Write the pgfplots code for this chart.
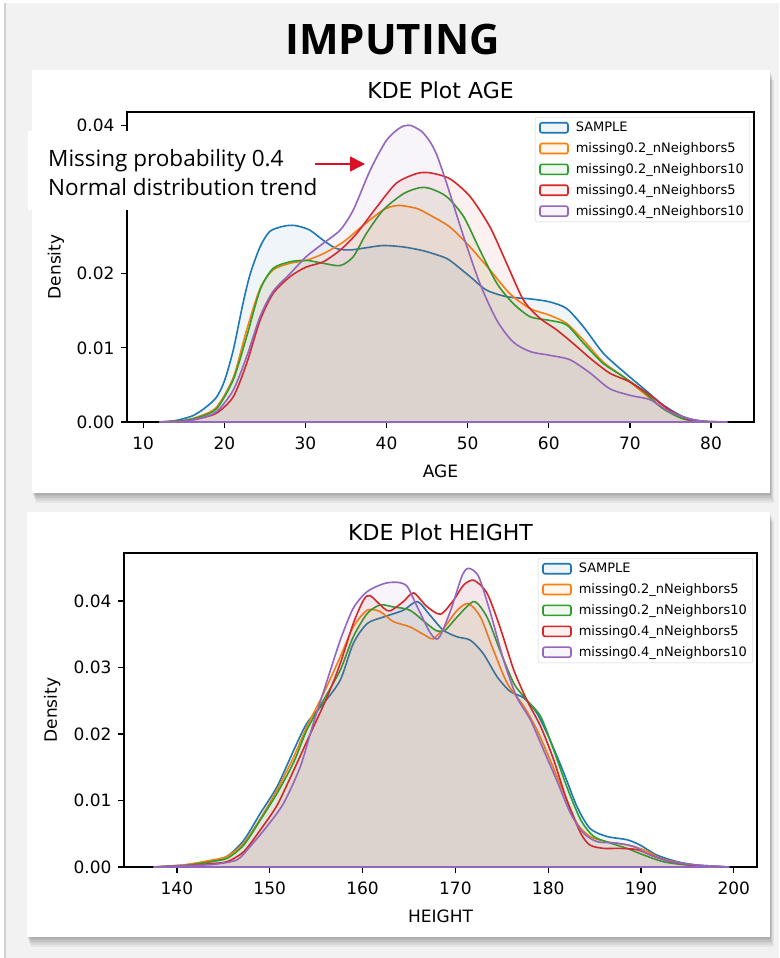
\documentclass[border=0pt]{standalone}
\usepackage{pgfplots}
\pgfplotsset{compat=1.18}
\usepackage{fontspec}
\setmainfont{DejaVu Sans}
\newfontfamily\osans{Open Sans}
\usetikzlibrary{arrows.meta}
\definecolor{c0}{HTML}{1F77B4}
\definecolor{c1}{HTML}{FF7F0E}
\definecolor{c2}{HTML}{2CA02C}
\definecolor{c3}{HTML}{D62728}
\definecolor{c4}{HTML}{9467BD}
\definecolor{bg}{HTML}{F2F2F2}
\definecolor{arrowred}{RGB}{218,16,40}
\pgfplotsset{
  kde/.style={
    scale only axis,
    axis line style={line width=1.3pt},
    every tick/.style={line width=1.3pt, black},
    major tick length=6pt,
    tick align=outside,
    xtick pos=left, ytick pos=left,
    ymin=0,
    /pgf/number format/assume math mode=true,
    ticklabel style={font=\fontsize{17}{20}\selectfont},
    xticklabel style={yshift=-5.5pt},
    yticklabel style={xshift=-3pt},
    label style={font=\fontsize{17}{20}\selectfont},
    xlabel style={at={(axis description cs:0.5,0)}, anchor=center, yshift=-49pt},
    ylabel style={at={(axis description cs:-0.1135,0.5)}, anchor=center},
    title style={font=\fontsize{22}{26}\selectfont, at={(axis description cs:0.5,1)}, anchor=base, yshift=8pt},
    scaled y ticks=false,
    yticklabel style={/pgf/number format/.cd, fixed, fixed zerofill, precision=2},
    ylabel={Density},
    legend style={at={(1,1)}, anchor=north east, xshift=-4pt, yshift=-5pt,
      draw=black!18, rounded corners=2pt, fill=white,
      font=\fontsize{13}{15.5}\selectfont, inner xsep=4pt, inner ysep=3pt,
      row sep=5.5pt, column sep=5pt, cells={anchor=west}},
    legend image code/.code={\draw[#1, line width=1.6pt] (0pt,-5pt) rectangle (28pt,5pt);},
  },
  kc/.style={smooth, tension=0.45, draw=#1, line width=1.6pt, fill=#1, fill opacity=0.065},
}
\begin{document}
\begin{tikzpicture}[x=1pt,y=-1pt]
\useasboundingbox (0,0) rectangle (779,958);
\fill[white] (0,0) rectangle (779,958);
\fill[bg] (4,3) rectangle (779,958);
\draw[black!18, line width=2pt] (5,3) -- (5,958);
% panel shadows
\foreach \i in {1,...,6} {
  \fill[black, opacity=0.05] (32+\i*0.6, 70+\i*1.6) rectangle (770+\i*0.6, 493+\i*1.6);
  \fill[black, opacity=0.05] (27+\i*0.6, 512+\i*1.6) rectangle (770+\i*0.6, 937+\i*1.6);
}
\fill[white] (32,70) rectangle (770,493);
\fill[white] (27,512) rectangle (770,937);
\node[anchor=base, font=\osans\bfseries\fontsize{42}{46}\selectfont] at (392.5,55) {IMPUTING};

% ---------------- AGE ----------------
\begin{axis}[kde, at={(127pt,-422pt)}, anchor=south west,
  width=627pt, height=310pt,
  xmin=8.0, xmax=85.3, ymax=0.0418,
  xtick={10,20,30,40,50,60,70,80},
  ytick={0,0.01,0.02,0.04},
  xlabel={AGE}, title={KDE Plot AGE}]
\addplot[kc=c0] table {
12 0
14 0.0002
16 0.0008
17.5 0.0018
19 0.0033
20 0.0055
21.1 0.0097
22.3 0.016
23.2 0.020
24.4 0.0236
25.6 0.0257
27.3 0.0264
28.7 0.0265
30.5 0.0259
32.2 0.0245
33.8 0.0234
35.5 0.0232
37.5 0.0235
39.6 0.0238
42.1 0.0236
44.5 0.0231
46.6 0.0224
47.8 0.0218
50.3 0.0196
52.3 0.0178
54.8 0.0169
57.7 0.0166
60.1 0.0162
62.2 0.0153
64.3 0.0128
66.7 0.0093
69.2 0.0068
71.7 0.0045
74.1 0.0023
76.6 0.0007
79 0.0001
82 0
} \closedcycle;
\addlegendentry{SAMPLE}
\addplot[kc=c1] table {
12 0
15 0.0002
17 0.0008
19.05 0.002
21.1 0.006
22.75 0.0124
24.4 0.018
26.0 0.0205
28.1 0.0214
30.1 0.0218
32.2 0.0227
34.7 0.0243
37.1 0.0265
39.6 0.0286
41.4 0.0292
43.7 0.0288
45.35 0.0279
47.8 0.0263
50.3 0.0236
52.75 0.0205
55.2 0.0173
57.7 0.0153
60.1 0.0144
62.2 0.0133
64.3 0.011
66.7 0.0081
69.2 0.0061
71.7 0.0039
74.1 0.0018
76.6 0.0005
79 0.0001
82 0
} \closedcycle;
\addlegendentry{missing0.2\_nNeighbors5}
\addplot[kc=c2] table {
12 0
15 0.0002
17 0.0007
19.05 0.0018
21.1 0.0057
22.75 0.0115
24.4 0.0178
26.0 0.0207
28.1 0.0216
30.1 0.0218
32.2 0.0214
34.3 0.0211
35.9 0.0223
37.5 0.0254
39.6 0.0286
42.1 0.0308
44.1 0.0316
45.35 0.0315
47.4 0.0304
49.5 0.0277
51.5 0.0232
53.6 0.0187
55.6 0.016
57.7 0.0142
60.1 0.0137
62.2 0.0131
64.3 0.0106
66.7 0.0079
69.2 0.0061
71.7 0.0041
74.1 0.0018
76.6 0.0004
79 0.0001
82 0
} \closedcycle;
\addlegendentry{missing0.2\_nNeighbors10}
\addplot[kc=c3] table {
12 0
15 0.0001
17 0.0005
19.05 0.0012
21.1 0.0034
22.75 0.0079
24.4 0.0137
26.0 0.0173
28.1 0.0196
30.1 0.0209
32.2 0.0216
34.3 0.0232
36.3 0.0254
38.8 0.029
41.2 0.0322
43.7 0.0335
45.35 0.0336
47.8 0.0328
50.3 0.0304
52.75 0.0263
54.8 0.0214
56.9 0.0164
58.9 0.014
61.0 0.0124
63.0 0.0106
65.1 0.0086
67.5 0.0066
70.0 0.0054
72.5 0.0036
74.9 0.0016
77.4 0.0003
80 0
82 0
} \closedcycle;
\addlegendentry{missing0.4\_nNeighbors5}
\addplot[kc=c4] table {
12 0
15 0.0001
17 0.0005
19.05 0.0014
21.1 0.0043
22.75 0.0088
24.4 0.0142
26.0 0.0176
28.1 0.02
30.1 0.0223
32.2 0.0241
34.3 0.0259
35.9 0.0286
38.0 0.034
40.0 0.038
41.7 0.0397
42.9 0.04
44.3 0.0392
45.35 0.0378
46.2 0.0360
47.4 0.0322
49.5 0.025
51.5 0.0187
53.6 0.0137
55.6 0.0108
57.7 0.0095
60.1 0.009
62.6 0.0084
65.1 0.0066
67.5 0.0045
70.0 0.0036
72.5 0.003
74.9 0.0014
77.4 0.0004
80 0
82 0
} \closedcycle;
\addlegendentry{missing0.4\_nNeighbors10}
\end{axis}

% ---------------- HEIGHT ----------------
\begin{axis}[kde, at={(124pt,-867pt)}, anchor=south west,
  width=633pt, height=314pt,
  xmin=134.3, xmax=202.5, ymax=0.0472,
  xtick={140,150,160,170,180,190,200},
  ytick={0,0.01,0.02,0.03,0.04},
  title style={yshift=-1.5pt},
  xlabel={HEIGHT}, title={KDE Plot HEIGHT}]
\addplot[kc=c0] table {
137.5 0
140.7 0.0003
143.6 0.0008
145.4 0.0016
147.2 0.004
149.0 0.0081
150.8 0.0121
152.6 0.0176
154.0 0.0216
155.8 0.0246
157.6 0.0281
159.0 0.0336
160.5 0.0366
162.3 0.0376
164.4 0.0386
165.9 0.0399
167.3 0.0378
168.7 0.0356
170.2 0.0346
171.6 0.0341
173.0 0.0321
174.5 0.0286
175.9 0.0264
177.4 0.0254
178.8 0.0231
180.2 0.0191
181.7 0.0141
183.1 0.0091
184.5 0.0058
186.3 0.0046
188.5 0.0041
189.9 0.0033
191.7 0.0018
193.9 0.0008
196.0 0.0003
199.5 0
} \closedcycle;
\addlegendentry{SAMPLE}
\addplot[kc=c1] table {
137.5 0
140.7 0.0003
143.6 0.001
145.4 0.0016
147.2 0.0036
149.0 0.0073
150.8 0.0116
152.6 0.0166
154.0 0.0211
155.8 0.0261
157.6 0.0316
159.0 0.0361
160.5 0.0386
161.9 0.0384
163.3 0.0369
165.1 0.0361
166.9 0.0347
167.6 0.0343
168.7 0.0358
170.2 0.0386
171.4 0.0396
172.7 0.0376
174.1 0.0326
175.6 0.0276
177.4 0.0241
178.8 0.0206
180.2 0.0161
181.7 0.0111
183.1 0.0066
184.5 0.0046
186.3 0.0038
188.5 0.0033
190.3 0.0026
192.1 0.0013
193.9 0.0007
196 0.0002
199.5 0
} \closedcycle;
\addlegendentry{missing0.2\_nNeighbors5}
\addplot[kc=c2] table {
137.5 0
140.7 0.0002
143.6 0.0008
145.4 0.0013
147.2 0.0033
149.0 0.0071
150.8 0.0111
152.6 0.0158
154.0 0.0206
155.8 0.0251
157.6 0.0296
159.0 0.0346
160.5 0.0381
161.9 0.0394
163.3 0.0391
165.1 0.0386
166.9 0.0366
168.0 0.0355
168.9 0.0356
170.2 0.0376
172.0 0.0399
173.4 0.0376
174.8 0.0326
176.3 0.0276
177.7 0.0251
179.2 0.0226
180.6 0.0176
182.0 0.0121
183.5 0.0071
184.9 0.0046
186.7 0.0036
188.5 0.0028
190.3 0.0018
192.4 0.0008
195 0.0003
199.5 0
} \closedcycle;
\addlegendentry{missing0.2\_nNeighbors10}
\addplot[kc=c3] table {
137.5 0
141 0.0002
143.6 0.0005
145.4 0.0008
147.2 0.0023
149.0 0.0056
150.8 0.0093
152.6 0.0146
154.4 0.0201
156.2 0.0256
157.6 0.0306
159.0 0.0366
160.1 0.0401
160.8 0.0408
162.3 0.0389
163.0 0.0385
164.4 0.0399
165.5 0.0412
166.9 0.0392
168.4 0.0380
169.8 0.0401
170.9 0.0424
172.0 0.0431
173.4 0.0412
174.8 0.0361
176.3 0.0296
177.7 0.0251
179.2 0.0211
180.6 0.0161
182.0 0.0101
183.5 0.0051
184.5 0.0033
186.0 0.0028
187.8 0.0028
189.6 0.0026
191.4 0.0016
193.2 0.0008
196 0.0002
199.5 0
} \closedcycle;
\addlegendentry{missing0.4\_nNeighbors5}
\addplot[kc=c4] table {
137.5 0
141 0.0002
144 0.0004
146.5 0.0011
147.9 0.0031
149.7 0.0061
151.5 0.0096
153.3 0.0151
154.7 0.0216
156.2 0.0281
157.6 0.0341
159.0 0.0389
160.5 0.0414
162.3 0.0426
163.7 0.0428
164.8 0.0422
165.9 0.0391
167.3 0.0352
168.2 0.0344
169.5 0.0386
170.7 0.0437
171.4 0.0449
172.5 0.0437
173.8 0.0381
175.2 0.0311
176.6 0.0256
178.1 0.0221
179.5 0.0176
180.9 0.0131
182.4 0.0081
183.8 0.0051
185.3 0.0038
187.4 0.0036
189.2 0.0031
191.0 0.0018
193.2 0.0008
196 0.0003
199.5 0
} \closedcycle;
\addlegendentry{missing0.4\_nNeighbors10}
\end{axis}

% annotation
\fill[white] (28,131) rectangle (332,210);
\node[anchor=base west, inner sep=0pt, font=\osans\fontsize{22.5}{26}\selectfont] at (48,166) {Missing probability 0.4};
\node[anchor=base west, inner sep=0pt, font=\osans\fontsize{22.5}{26}\selectfont] at (48,195) {Normal distribution trend};
\draw[arrowred, line width=1.5pt, -{Triangle[length=15pt,width=15pt]}] (315,164) -- (365,164);
\end{tikzpicture}
\end{document}
